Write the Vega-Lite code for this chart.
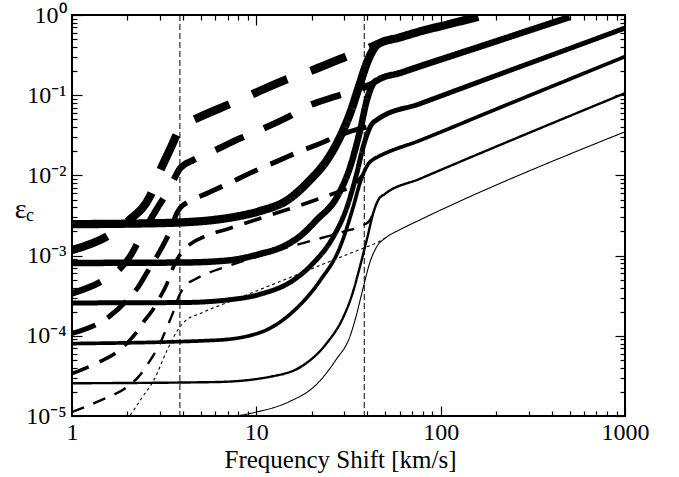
{
  "$schema": "https://vega.github.io/schema/vega-lite/v6.json",
  "width": 553,
  "height": 401,
  "autosize": {"type": "none"},
  "padding": {"left": 72, "top": 15, "right": 54, "bottom": 61},
  "background": "white",
  "config": {
    "view": {"stroke": "black", "strokeWidth": 2},
    "font": "Liberation Serif",
    "axis": {"grid": false, "domain": false, "tickColor": "black", "tickWidth": 1.2, "labelColor": "black", "titleColor": "black", "labelFont": "Liberation Serif", "titleFont": "Liberation Serif", "titleFontWeight": "normal"}
  },
  "datasets": {
    "vlines": [{"v": 3.85}, {"v": 38.5}],
    "sub": [{"t": "c", "x": 1, "y": 0.0031}],
    "curves": [
      {"s":"S1","x":1,"y":0.00247},{"s":"S1","x":2,"y":0.0025},{"s":"S1","x":4,"y":0.0026},{"s":"S1","x":6,"y":0.0028},{"s":"S1","x":8,"y":0.0031},{"s":"S1","x":10.5,"y":0.0036},{"s":"S1","x":14.7,"y":0.0049},{"s":"S1","x":19.6,"y":0.0088},{"s":"S1","x":24.2,"y":0.0156},{"s":"S1","x":28.5,"y":0.0304},{"s":"S1","x":32.3,"y":0.06},{"s":"S1","x":36.6,"y":0.143},{"s":"S1","x":39.8,"y":0.253},{"s":"S1","x":43.1,"y":0.37},{"s":"S1","x":45.5,"y":0.432},{"s":"S1","x":60,"y":0.525},{"s":"S1","x":77.5,"y":0.625},{"s":"S1","x":110,"y":0.765},{"s":"S1","x":160,"y":0.95},
      {"s":"S2","x":1,"y":0.00081},{"s":"S2","x":4,"y":0.00082},{"s":"S2","x":7,"y":0.00087},{"s":"S2","x":10.5,"y":0.00105},{"s":"S2","x":14,"y":0.0013},{"s":"S2","x":17,"y":0.0017},{"s":"S2","x":21.3,"y":0.0028},{"s":"S2","x":27.4,"y":0.0054},{"s":"S2","x":32.3,"y":0.0128},{"s":"S2","x":36.6,"y":0.037},{"s":"S2","x":39.8,"y":0.087},{"s":"S2","x":43.1,"y":0.14},{"s":"S2","x":46,"y":0.156},{"s":"S2","x":60,"y":0.189},{"s":"S2","x":77.5,"y":0.23},{"s":"S2","x":160,"y":0.397},{"s":"S2","x":300,"y":0.639},{"s":"S2","x":500,"y":0.94},
      {"s":"S3","x":1,"y":0.000257},{"s":"S3","x":4,"y":0.00026},{"s":"S3","x":7,"y":0.00028},{"s":"S3","x":10.5,"y":0.00033},{"s":"S3","x":15.8,"y":0.00049},{"s":"S3","x":20.3,"y":0.0008},{"s":"S3","x":26.1,"y":0.0017},{"s":"S3","x":31,"y":0.004},{"s":"S3","x":35.1,"y":0.0107},{"s":"S3","x":38,"y":0.0228},{"s":"S3","x":41.5,"y":0.0405},{"s":"S3","x":45.5,"y":0.05},{"s":"S3","x":77.5,"y":0.0785},{"s":"S3","x":200,"y":0.176},{"s":"S3","x":450,"y":0.349},{"s":"S3","x":1000,"y":0.687},
      {"s":"S4","x":1,"y":0.00008},{"s":"S4","x":6,"y":0.000088},{"s":"S4","x":10.5,"y":0.00011},{"s":"S4","x":15.8,"y":0.0002},{"s":"S4","x":22.2,"y":0.00049},{"s":"S4","x":28.5,"y":0.00129},{"s":"S4","x":33.5,"y":0.004},{"s":"S4","x":36.6,"y":0.0082},{"s":"S4","x":40,"y":0.0133},{"s":"S4","x":43,"y":0.0158},{"s":"S4","x":46,"y":0.0172},{"s":"S4","x":77.5,"y":0.0274},{"s":"S4","x":200,"y":0.067},{"s":"S4","x":1000,"y":0.303},
      {"s":"S5","x":1,"y":0.0000256},{"s":"S5","x":6,"y":0.0000265},{"s":"S5","x":12,"y":0.000031},{"s":"S5","x":18,"y":0.000043},{"s":"S5","x":24,"y":0.00008},{"s":"S5","x":29.6,"y":0.00017},{"s":"S5","x":33,"y":0.00032},{"s":"S5","x":36.6,"y":0.00075},{"s":"S5","x":39.8,"y":0.0016},{"s":"S5","x":43.1,"y":0.0034},{"s":"S5","x":46,"y":0.005},{"s":"S5","x":50,"y":0.0059},{"s":"S5","x":77.5,"y":0.0091},{"s":"S5","x":1000,"y":0.106},
      {"s":"S6","x":4,"y":0.0000085},{"s":"S6","x":7.8,"y":0.00001},{"s":"S6","x":10,"y":0.0000112},{"s":"S6","x":15,"y":0.000015},{"s":"S6","x":21.3,"y":0.000025},{"s":"S6","x":27,"y":0.00005},{"s":"S6","x":32.3,"y":0.0001},{"s":"S6","x":35.1,"y":0.00019},{"s":"S6","x":38,"y":0.0004},{"s":"S6","x":41.5,"y":0.00085},{"s":"S6","x":45.1,"y":0.0013},{"s":"S6","x":50,"y":0.00165},{"s":"S6","x":60,"y":0.0021},{"s":"S6","x":77.5,"y":0.0028},{"s":"S6","x":1000,"y":0.035},
      {"s":"D1","x":1,"y":0.00117},{"s":"D1","x":1.56,"y":0.00175},{"s":"D1","x":2.02,"y":0.0027},{"s":"D1","x":2.67,"y":0.0057},{"s":"D1","x":3.02,"y":0.0117},{"s":"D1","x":3.4,"y":0.021},{"s":"D1","x":3.73,"y":0.0338},{"s":"D1","x":3.85,"y":0.039},{"s":"D1","x":4.2,"y":0.045},{"s":"D1","x":4.79,"y":0.052},{"s":"D1","x":7.41,"y":0.08},{"s":"D1","x":9.88,"y":0.107},{"s":"D1","x":15.3,"y":0.164},{"s":"D1","x":20.4,"y":0.207},{"s":"D1","x":32.3,"y":0.318},{"s":"D1","x":42.5,"y":0.405},{"s":"D1","x":45.5,"y":0.432},
      {"s":"D2","x":1,"y":0.000337},{"s":"D2","x":1.43,"y":0.00047},{"s":"D2","x":1.79,"y":0.00066},{"s":"D2","x":2.08,"y":0.001},{"s":"D2","x":2.29,"y":0.0015},{"s":"D2","x":2.56,"y":0.0024},{"s":"D2","x":2.9,"y":0.0039},{"s":"D2","x":3.2,"y":0.0056},{"s":"D2","x":3.49,"y":0.008},{"s":"D2","x":3.85,"y":0.0122},{"s":"D2","x":4.56,"y":0.0156},{"s":"D2","x":5.75,"y":0.0198},{"s":"D2","x":8.19,"y":0.029},{"s":"D2","x":10.5,"y":0.0369},{"s":"D2","x":15,"y":0.054},{"s":"D2","x":18.8,"y":0.072},{"s":"D2","x":26.7,"y":0.096},{"s":"D2","x":36,"y":0.118},{"s":"D2","x":43.1,"y":0.14},
      {"s":"D3","x":1,"y":0.000107},{"s":"D3","x":1.58,"y":0.000172},{"s":"D3","x":1.99,"y":0.000278},{"s":"D3","x":2.29,"y":0.000408},{"s":"D3","x":2.66,"y":0.000725},{"s":"D3","x":3.02,"y":0.00117},{"s":"D3","x":3.42,"y":0.00208},{"s":"D3","x":3.71,"y":0.0034},{"s":"D3","x":3.85,"y":0.0039},{"s":"D3","x":4.3,"y":0.0047},{"s":"D3","x":5.41,"y":0.006},{"s":"D3","x":7.37,"y":0.0083},{"s":"D3","x":9.27,"y":0.0107},{"s":"D3","x":13.5,"y":0.0156},{"s":"D3","x":17.9,"y":0.0207},{"s":"D3","x":21.3,"y":0.024},{"s":"D3","x":28.5,"y":0.0319},{"s":"D3","x":36,"y":0.038},{"s":"D3","x":41.5,"y":0.0405},
      {"s":"D4","x":1,"y":0.0000338},{"s":"D4","x":1.4,"y":0.000047},{"s":"D4","x":1.76,"y":0.000063},{"s":"D4","x":2,"y":0.000082},{"s":"D4","x":2.25,"y":0.000112},{"s":"D4","x":2.45,"y":0.00015},{"s":"D4","x":2.78,"y":0.00022},{"s":"D4","x":3.02,"y":0.00031},{"s":"D4","x":3.28,"y":0.00045},{"s":"D4","x":3.49,"y":0.00066},{"s":"D4","x":3.79,"y":0.00097},{"s":"D4","x":3.95,"y":0.0011},{"s":"D4","x":4.4,"y":0.0014},{"s":"D4","x":4.97,"y":0.00164},{"s":"D4","x":7.2,"y":0.0022},{"s":"D4","x":11.4,"y":0.0031},{"s":"D4","x":16.6,"y":0.0041},{"s":"D4","x":21.3,"y":0.005},{"s":"D4","x":28,"y":0.0063},{"s":"D4","x":34,"y":0.0076},{"s":"D4","x":38,"y":0.0103},
      {"s":"D5","x":1,"y":0.0000112},{"s":"D5","x":1.43,"y":0.0000157},{"s":"D5","x":1.99,"y":0.000023},{"s":"D5","x":2.3,"y":0.000031},{"s":"D5","x":2.66,"y":0.0000496},{"s":"D5","x":3,"y":0.00008},{"s":"D5","x":3.28,"y":0.000129},{"s":"D5","x":3.55,"y":0.0002},{"s":"D5","x":3.79,"y":0.000306},{"s":"D5","x":4.1,"y":0.00042},{"s":"D5","x":4.6,"y":0.0005},{"s":"D5","x":5.41,"y":0.0006},{"s":"D5","x":7,"y":0.00074},{"s":"D5","x":10,"y":0.00096},{"s":"D5","x":14,"y":0.00122},{"s":"D5","x":21.3,"y":0.0016},{"s":"D5","x":30,"y":0.002},{"s":"D5","x":38,"y":0.0024},{"s":"D5","x":41,"y":0.0027},{"s":"D5","x":43.1,"y":0.0034},
      {"s":"D6","x":1.5,"y":0.000005},{"s":"D6","x":2.05,"y":0.00001},{"s":"D6","x":2.4,"y":0.000017},{"s":"D6","x":2.78,"y":0.000028},{"s":"D6","x":3.28,"y":0.000066},{"s":"D6","x":3.79,"y":0.000123},{"s":"D6","x":4.1,"y":0.000152},{"s":"D6","x":4.97,"y":0.00019},{"s":"D6","x":7.5,"y":0.000278},{"s":"D6","x":11.4,"y":0.000408},{"s":"D6","x":17.3,"y":0.0006},{"s":"D6","x":26.1,"y":0.00088},{"s":"D6","x":39.8,"y":0.00129},{"s":"D6","x":45.1,"y":0.00145},{"s":"D6","x":50,"y":0.00166}
    ]
  },
  "layer": [
    {
      "data": {"name": "vlines"},
      "mark": {"type": "rule", "strokeDash": [6, 3], "strokeWidth": 1, "color": "black"},
      "encoding": {
        "x": {"field": "v", "type": "quantitative",
          "scale": {"type": "log", "domain": [1, 1000], "nice": false},
          "axis": {"orient": "top", "labels": false, "title": null,
            "values": [1,2,3,4,5,6,7,8,9,10,20,30,40,50,60,70,80,90,100,200,300,400,500,600,700,800,900,1000],
            "tickSize": {"condition": {"test": "indexof([1,10,100,1000], datum.value) >= 0", "value": -10}, "value": -5}}}
      }
    },
    {
      "data": {"name": "curves"},
      "mark": {"type": "line", "clip": true, "color": "black", "interpolate": "monotone"},
      "encoding": {
        "x": {"field": "x", "type": "quantitative",
          "scale": {"type": "log", "domain": [1, 1000], "nice": false},
          "axis": {"orient": "bottom", "title": "Frequency Shift [km/s]", "titleFontSize": 25, "titlePadding": 3, "titleX": 268, "titleAlign": "center",
            "values": [1,2,3,4,5,6,7,8,9,10,20,30,40,50,60,70,80,90,100,200,300,400,500,600,700,800,900,1000],
            "labelExpr": "indexof([1,10,100,1000], datum.value) >= 0 ? '' + datum.value : ''",
            "labelFontSize": 24, "labelPadding": 14, "labelFlush": false,
            "tickSize": {"condition": {"test": "indexof([1,10,100,1000], datum.value) >= 0", "value": -10}, "value": -5}}},
        "y": {"field": "y", "type": "quantitative",
          "scale": {"type": "log", "domain": [0.00001, 1], "nice": false},
          "axis": {"orient": "left", "title": "ε", "titleAngle": 0, "titleFontSize": 28, "titleX": -52, "titleY": 194, "titleAlign": "center", "titleBaseline": "middle",
            "values": [0.00001,0.00002,0.00003,0.00004,0.00005,0.00006,0.00007,0.00008,0.00009,0.0001,0.0002,0.0003,0.0004,0.0005,0.0006,0.0007,0.0008,0.0009,0.001,0.002,0.003,0.004,0.005,0.006,0.007,0.008,0.009,0.01,0.02,0.03,0.04,0.05,0.06,0.07,0.08,0.09,0.1,0.2,0.3,0.4,0.5,0.6,0.7,0.8,0.9,1],
            "labelExpr": "indexof([0.00001,0.0001,0.001,0.01,0.1,1], datum.value) >= 0 ? ['10⁻⁵','10⁻⁴','10⁻³','10⁻²','10⁻¹','10⁰'][indexof([0.00001,0.0001,0.001,0.01,0.1,1], datum.value)] : ''",
            "labelFontSize": 24, "labelPadding": 16, "labelFlush": false,
            "tickSize": {"condition": {"test": "indexof([0.00001,0.0001,0.001,0.01,0.1,1], datum.value) >= 0", "value": -10}, "value": -5}}},
        "detail": {"field": "s", "type": "nominal"},
        "strokeWidth": {"field": "s", "type": "nominal", "legend": null,
          "scale": {"type": "ordinal", "domain": ["S1","S2","S3","S4","S5","S6","D1","D2","D3","D4","D5","D6"], "range": [8.3,6.5,5,3.7,2.4,1.1,8.3,6.5,5,3.7,2.4,1.1]}},
        "strokeDash": {"field": "s", "type": "nominal", "legend": null,
          "scale": {"domain": ["S1","S2","S3","S4","S5","S6","D1","D2","D3","D4","D5","D6"], "range": [[1,0],[1,0],[1,0],[1,0],[1,0],[1,0],[38,25],[31,22],[25,14],[18,12],[13,10],[3,3]]}}
      }
    },
    {
      "data": {"name": "sub"},
      "mark": {"type": "text", "fontSize": 18, "dx": -42, "font": "Liberation Serif", "color": "black"},
      "encoding": {
        "x": {"field": "x", "type": "quantitative", "scale": {"type": "log", "domain": [1, 1000], "nice": false}, "axis": null},
        "y": {"field": "y", "type": "quantitative", "scale": {"type": "log", "domain": [0.00001, 1], "nice": false},
          "axis": {"orient": "right", "labels": false, "title": null,
            "values": [0.00001,0.00002,0.00003,0.00004,0.00005,0.00006,0.00007,0.00008,0.00009,0.0001,0.0002,0.0003,0.0004,0.0005,0.0006,0.0007,0.0008,0.0009,0.001,0.002,0.003,0.004,0.005,0.006,0.007,0.008,0.009,0.01,0.02,0.03,0.04,0.05,0.06,0.07,0.08,0.09,0.1,0.2,0.3,0.4,0.5,0.6,0.7,0.8,0.9,1],
            "tickSize": {"condition": {"test": "indexof([0.00001,0.0001,0.001,0.01,0.1,1], datum.value) >= 0", "value": -10}, "value": -5}}},
        "text": {"field": "t", "type": "nominal"}
      }
    }
  ],
  "resolve": {"axis": {"x": "independent", "y": "independent"}}
}
